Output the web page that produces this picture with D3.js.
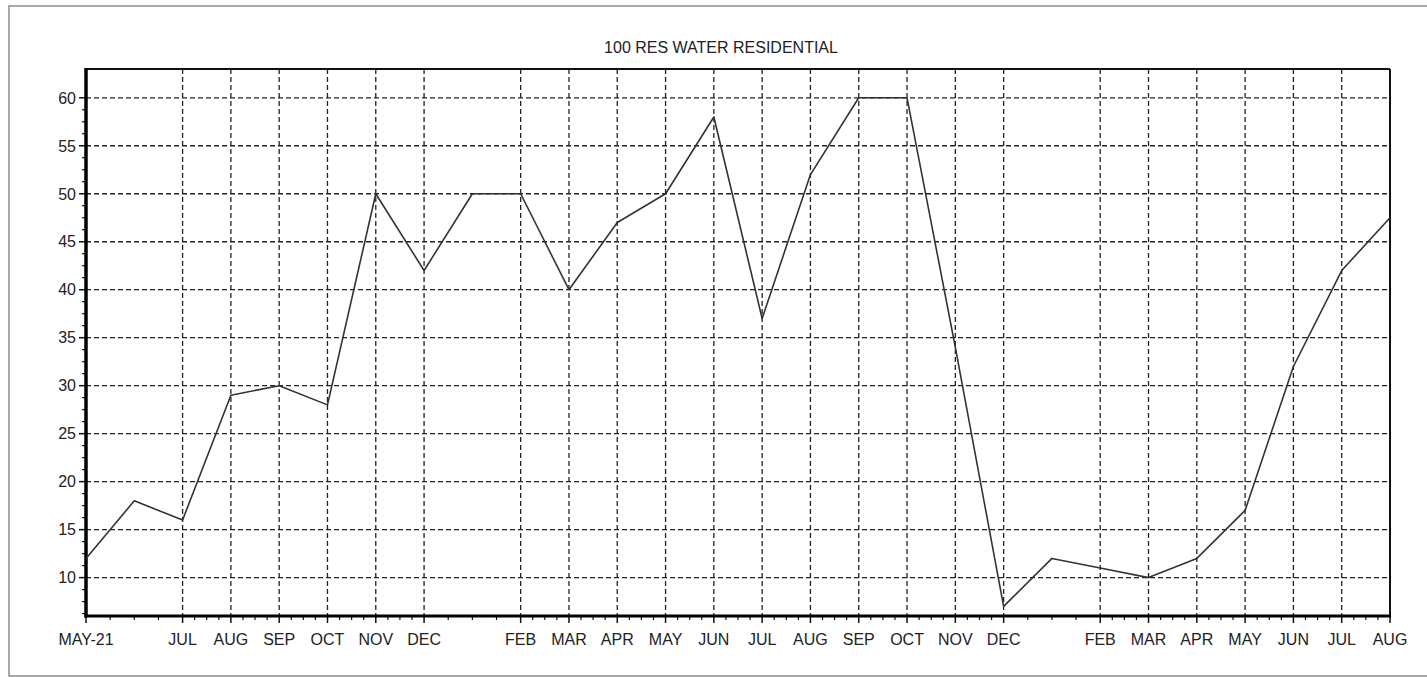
<!DOCTYPE html>
<html>
<head>
<meta charset="utf-8">
<script src="https://cdn.jsdelivr.net/npm/d3@7"></script>
<style>
  body { margin: 0; background: #fff; }
  svg { display: block; font-family: "Liberation Sans", Arial, sans-serif; }
</style>
</head>
<body>
<div id="chart"></div>
<script>
const title = "100 RES WATER RESIDENTIAL";

// one entry per month, May-21 .. Aug-23; empty label = no tick label / no grid line
const monthLabels = ["MAY-21", "", "JUL", "AUG", "SEP", "OCT", "NOV", "DEC",
    "", "FEB", "MAR", "APR", "MAY", "JUN", "JUL", "AUG", "SEP", "OCT", "NOV", "DEC",
    "", "FEB", "MAR", "APR", "MAY", "JUN", "JUL", "AUG"];

const values = [12, 18, 16, 29, 30, 28, 50, 42,
    50, 50, 40, 47, 50, 58, 37, 52, 60, 60, 34, 7,
    12, 11, 10, 12, 17, 32, 42, 47.5];

const yTicks = [10, 15, 20, 25, 30, 35, 40, 45, 50, 55, 60];
const yDomain = [6, 63];

const width = 1427;
const height = 677;
const margin = { top: 69, right: 37, bottom: 61, left: 86 };

const svg = d3.select("#chart").append("svg")
    .attr("width", width)
    .attr("height", height);

// outer frame of the scanned page
svg.append("path")
    .attr("d", `M${width},6 H9 V676 H${width}`)
    .attr("fill", "none")
    .attr("stroke", "#8a8a8a")
    .attr("stroke-width", 1.5);

svg.append("text")
    .attr("x", 721)
    .attr("y", 53)
    .attr("text-anchor", "middle")
    .attr("font-size", 16)
    .attr("fill", "#222")
    .text(title);

const x = d3.scaleLinear()
    .domain([0, values.length - 1])
    .range([margin.left, width - margin.right]);

const y = d3.scaleLinear()
    .domain(yDomain)
    .range([height - margin.bottom, margin.top]);

const x0 = x.range()[0], x1 = x.range()[1];
const y0 = y.range()[0], y1 = y.range()[1];

const majorIdx = monthLabels.map((d, i) => d ? i : -1).filter(i => i >= 0);

// minor ticks split every labelled interval in four
const xMinor = [];
for (let k = 0; k < majorIdx.length - 1; k++) {
    const a = majorIdx[k], b = majorIdx[k + 1];
    for (let j = 1; j < 4; j++) xMinor.push(a + (b - a) * j / 4);
}
const yMinor = [];
for (let k = 0; k < yTicks.length - 1; k++) {
    for (let j = 1; j < 4; j++) yMinor.push(yTicks[k] + 5 * j / 4);
}
yMinor.push(8.75, 7.5, 6.25);

const grid = svg.append("g")
    .attr("stroke", "#222")
    .attr("stroke-width", 1.3)
    .attr("stroke-dasharray", "5,3");

grid.selectAll(".hgrid")
    .data(yTicks)
    .enter()
    .append("line")
    .attr("x1", x0).attr("x2", x1)
    .attr("y1", d => y(d)).attr("y2", d => y(d));

grid.selectAll(".vgrid")
    .data(majorIdx.filter(i => i > 0 && i < values.length - 1))
    .enter()
    .append("line")
    .attr("x1", d => x(d)).attr("x2", d => x(d))
    .attr("y1", y1).attr("y2", y0);

// ticks
const ticks = svg.append("g").attr("stroke", "#111");

ticks.selectAll(".xmaj")
    .data(majorIdx)
    .enter()
    .append("line")
    .attr("x1", d => x(d)).attr("x2", d => x(d))
    .attr("y1", y0).attr("y2", y0 + 7)
    .attr("stroke-width", 1.5);

ticks.selectAll(".xmin")
    .data(xMinor)
    .enter()
    .append("line")
    .attr("x1", d => x(d)).attr("x2", d => x(d))
    .attr("y1", y0).attr("y2", y0 + 4)
    .attr("stroke-width", 1.2);

ticks.selectAll(".ymaj")
    .data(yTicks)
    .enter()
    .append("line")
    .attr("x1", x0 - 7).attr("x2", x0)
    .attr("y1", d => y(d)).attr("y2", d => y(d))
    .attr("stroke-width", 1.5);

ticks.selectAll(".ymin")
    .data(yMinor)
    .enter()
    .append("line")
    .attr("x1", x0 - 4).attr("x2", x0)
    .attr("y1", d => y(d)).attr("y2", d => y(d))
    .attr("stroke-width", 1.2);

// plot frame
svg.append("line").attr("x1", x0).attr("x2", x1).attr("y1", y1).attr("y2", y1)
    .attr("stroke", "#111").attr("stroke-width", 2);
svg.append("line").attr("x1", x1).attr("x2", x1).attr("y1", y1).attr("y2", y0)
    .attr("stroke", "#111").attr("stroke-width", 2);
svg.append("line").attr("x1", x0).attr("x2", x0).attr("y1", y1 - 1).attr("y2", y0 + 1.5)
    .attr("stroke", "#000").attr("stroke-width", 3.5);
svg.append("line").attr("x1", x0 - 1.5).attr("x2", x1 + 1).attr("y1", y0).attr("y2", y0)
    .attr("stroke", "#000").attr("stroke-width", 3);

// labels
svg.selectAll(".xlabel")
    .data(majorIdx)
    .enter()
    .append("text")
    .attr("x", d => x(d))
    .attr("y", 645)
    .attr("text-anchor", "middle")
    .attr("font-size", 16)
    .attr("fill", "#222")
    .text(d => monthLabels[d]);

svg.selectAll(".ylabel")
    .data(yTicks)
    .enter()
    .append("text")
    .attr("x", x0 - 10)
    .attr("y", d => y(d))
    .attr("dy", "0.36em")
    .attr("text-anchor", "end")
    .attr("font-size", 16)
    .attr("fill", "#222")
    .text(d => d);

// series
const line = d3.line()
    .x((d, i) => x(i))
    .y(d => y(d));

svg.append("path")
    .datum(values)
    .attr("d", line)
    .attr("fill", "none")
    .attr("stroke", "#333")
    .attr("stroke-width", 1.6)
    .attr("stroke-linejoin", "round");
</script>
</body>
</html>
